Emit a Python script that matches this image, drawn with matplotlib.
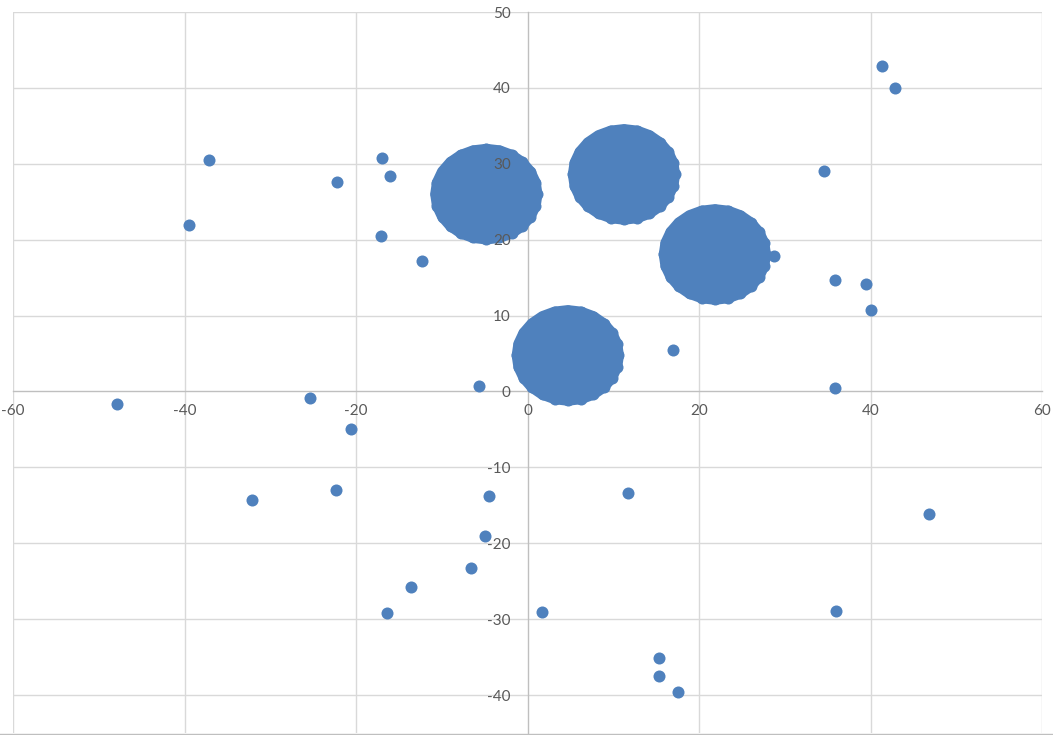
import matplotlib
matplotlib.use("Agg")
import matplotlib.pyplot as plt
from matplotlib.lines import Line2D

# loose points
pts_x = [41.3, 42.9, -37.1, -39.5, -22.2, -17.0, -16.0, -17.1, -12.3, 34.6, 28.7, 35.9,
         39.5, 40.1, 17.0, 35.9, -5.7, -47.9, -25.4, -20.6, -32.1, -22.3, -4.5, 11.7,
         46.8, -5.0, -6.6, -13.6, -16.4, 1.7, 36.0, 15.3, 15.3, 17.5]
pts_y = [42.9, 40.0, 30.5, 22.0, 27.6, 30.7, 28.4, 20.5, 17.2, 29.1, 17.8, 14.7,
         14.1, 10.7, 5.5, 0.4, 0.7, -1.6, -0.9, -5.0, -14.3, -13.0, -13.8, -13.4,
         -16.2, -19.1, -23.3, -25.8, -29.2, -29.1, -28.9, -35.1, -37.5, -39.6]

# outer points of the four dense clusters
c1_x = [1.1, 0.9, 0.31, -0.63, -1.85, -3.27, -4.8, -6.33, -7.75, -8.97, -9.91, -10.5,
        -10.7, -10.5, -9.91, -8.97, -7.75, -6.33, -4.8, -3.27, -1.85, -0.63, 0.31, 0.9]
c1_y = [26.0, 27.53, 28.95, 30.17, 31.11, 31.7, 31.9, 31.7, 31.11, 30.17, 28.95, 27.53,
        26.0, 24.47, 23.05, 21.83, 20.89, 20.3, 20.1, 20.3, 20.89, 21.83, 23.05, 24.47]
c2_x = [17.15, 16.95, 16.36, 15.42, 14.2, 12.78, 11.25, 9.72, 8.3, 7.08, 6.14, 5.55,
        5.35, 5.55, 6.14, 7.08, 8.3, 9.72, 11.25, 12.78, 14.2, 15.42, 16.36, 16.95]
c2_y = [28.6, 30.13, 31.55, 32.77, 33.71, 34.3, 34.5, 34.3, 33.71, 32.77, 31.55, 30.13,
        28.6, 27.07, 25.65, 24.43, 23.49, 22.9, 22.7, 22.9, 23.49, 24.43, 25.65, 27.07]
c3_x = [27.75, 27.55, 26.96, 26.02, 24.8, 23.38, 21.85, 20.32, 18.9, 17.68, 16.74, 16.15,
        15.95, 16.15, 16.74, 17.68, 18.9, 20.32, 21.85, 23.38, 24.8, 26.02, 26.96, 27.55]
c3_y = [18.05, 19.58, 21.0, 22.22, 23.16, 23.75, 23.95, 23.75, 23.16, 22.22, 21.0, 19.58,
        18.05, 16.52, 15.1, 13.88, 12.94, 12.35, 12.15, 12.35, 12.94, 13.88, 15.1, 16.52]
c4_x = [10.6, 10.4, 9.81, 8.87, 7.65, 6.23, 4.7, 3.17, 1.75, 0.53, -0.41, -1.0,
        -1.2, -1.0, -0.41, 0.53, 1.75, 3.17, 4.7, 6.23, 7.65, 8.87, 9.81, 10.4]
c4_y = [4.75, 6.28, 7.7, 8.92, 9.86, 10.45, 10.65, 10.45, 9.86, 8.92, 7.7, 6.28,
        4.75, 3.22, 1.8, 0.58, -0.36, -0.95, -1.15, -0.95, -0.36, 0.58, 1.8, 3.22]

xticks = [-60, -40, -20, 0, 20, 40, 60]
yticks = [-40, -30, -20, -10, 0, 10, 20, 30, 40, 50]

blue = "#4F81BD"
plt.rcParams['font.family'] = ['Lato', 'DejaVu Sans']
plt.rcParams['axes.unicode_minus'] = False

fig = plt.figure(figsize=(10.53, 7.35), dpi=100)
ax = fig.add_axes([13 / 1053, 2 / 735, 1029 / 1053, 721 / 735])
ax.set_xlim(-60, 60)
ax.set_ylim(-45, 50)

# grid drawn by hand so the tick labels can sit above the points
for x in xticks:
    if x != 0:
        ax.axvline(x, color="#D9D9D9", lw=1.0, zorder=0)
for y in yticks:
    if y != 0:
        ax.axhline(y, color="#D9D9D9", lw=1.0, zorder=0)

for cx, cy in [(c1_x, c1_y), (c2_x, c2_y), (c3_x, c3_y), (c4_x, c4_y)]:
    ax.fill(cx, cy, facecolor=blue, edgecolor=blue, lw=8.0, joinstyle='round', zorder=3)
    ax.scatter(cx, cy, s=75, color=blue, linewidths=0, zorder=3)

ax.scatter(pts_x, pts_y, s=75, color=blue, linewidths=0, zorder=3)

for side in ['top', 'right']:
    ax.spines[side].set_visible(False)
ax.spines['left'].set_position(('data', 0))
ax.spines['bottom'].set_position(('data', 0))
for side in ['left', 'bottom']:
    ax.spines[side].set_color("#BFBFBF")
    ax.spines[side].set_linewidth(1.0)
    ax.spines[side].set_zorder(1)

ax.set_xticks(xticks)
ax.set_yticks(yticks)
ax.tick_params(axis='both', length=0, labelsize=11, labelcolor="#595959")
ax.tick_params(axis='x', pad=9)
ax.tick_params(axis='y', pad=12)
ax.xaxis.set_zorder(5)
ax.yaxis.set_zorder(5)

fig.add_artist(Line2D([0, 1], [1.5 / 735, 1.5 / 735], color="#BFBFBF", lw=1.0))

fig.savefig("out.png", dpi=100)
